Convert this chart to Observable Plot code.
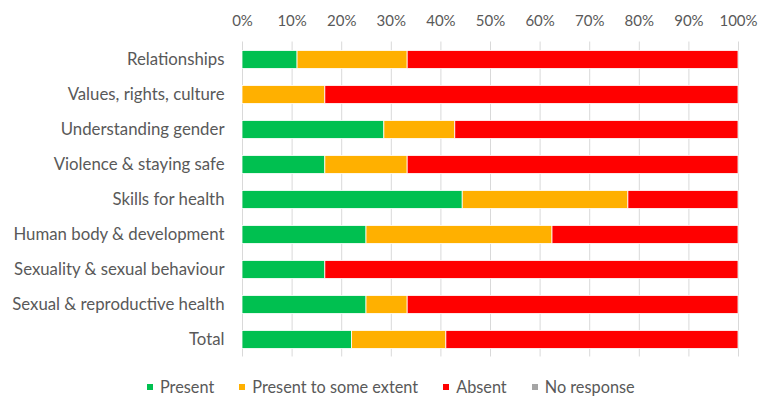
<!DOCTYPE html>
<html>
<head>
<meta charset="utf-8">
<script src="https://cdn.jsdelivr.net/npm/d3@7"></script>
<script src="https://cdn.jsdelivr.net/npm/@observablehq/plot@0.6"></script>
<style>
  html, body { margin: 0; padding: 0; background: #fff; overflow: hidden; }
  body { width: 769px; height: 401px; font-family: Lato, "Open Sans", sans-serif; }
  #legend { display: flex; justify-content: flex-start; align-items: center; height: 29px; padding-left: 147px; font-size: 16.3px; color: #595959; gap: 25px; }
  #legend .item { display: flex; align-items: center; gap: 7px; }
  #legend .sw { width: 6px; height: 6px; display: inline-block; }
</style>
</head>
<body>
<div id="chart"></div>
<div id="legend"></div>
<script>
const categories = [
  "Relationships",
  "Values, rights, culture",
  "Understanding gender",
  "Violence & staying safe",
  "Skills for health",
  "Human body & development",
  "Sexuality & sexual behaviour",
  "Sexual & reproductive health",
  "Total"
];
const seriesNames = ["Present", "Present to some extent", "Absent", "No response"];
const seriesColors = ["#00C050", "#FFB000", "#FF0000", "#A5A5A5"];
const present      = [0.111, 0.000, 0.286, 0.167, 0.444, 0.250, 0.167, 0.250, 0.221];
const someExtent   = [0.222, 0.167, 0.143, 0.166, 0.334, 0.375, 0.000, 0.083, 0.190];
const absent       = [0.667, 0.833, 0.571, 0.667, 0.222, 0.375, 0.833, 0.667, 0.589];
const noResponse   = [0, 0, 0, 0, 0, 0, 0, 0, 0];
const xTicks = [0, 0.1, 0.2, 0.3, 0.4, 0.5, 0.6, 0.7, 0.8, 0.9, 1.0];

const seriesValues = [present, someExtent, absent, noResponse];
const data = [];
categories.forEach((c, i) => {
  seriesNames.forEach((s, j) => {
    data.push({category: c, series: s, value: seriesValues[j][i]});
  });
});

const chart = Plot.plot({
  width: 769,
  height: 372,
  marginLeft: 242,
  marginRight: 31,
  marginTop: 41.5,
  marginBottom: 15.5,
  style: {fontFamily: 'Lato, "Open Sans", sans-serif', fontSize: "15px", color: "#595959", background: "white"},
  x: {domain: [0, 1], axis: null},
  y: {domain: categories, padding: 0, axis: null},
  color: {domain: seriesNames, range: seriesColors},
  marks: [
    Plot.gridX(xTicks, {stroke: "#d9d9d9", strokeOpacity: 1, strokeWidth: 1}),
    Plot.axisX({anchor: "top", ticks: xTicks, tickSize: 0, tickPadding: 16, tickFormat: d3.format(".0%"), label: null, fontSize: 15, fill: "#595959"}),
    Plot.axisY({anchor: "left", tickSize: 0, tickPadding: 18, label: null, fontSize: 16.8, fill: "#595959"}),
    Plot.barX(data, Plot.stackX({
      x: "value", y: "category", fill: "series", order: seriesNames,
      insetTop: 8.5, insetBottom: 8.5, stroke: "white", strokeWidth: 0.8
    }))
  ]
});
document.getElementById("chart").appendChild(chart);

const legend = document.getElementById("legend");
seriesNames.forEach((s, j) => {
  const item = document.createElement("span");
  item.className = "item";
  const sw = document.createElement("span");
  sw.className = "sw";
  sw.style.background = seriesColors[j];
  const t = document.createElement("span");
  t.textContent = s;
  item.appendChild(sw);
  item.appendChild(t);
  legend.appendChild(item);
});
</script>
</body>
</html>
